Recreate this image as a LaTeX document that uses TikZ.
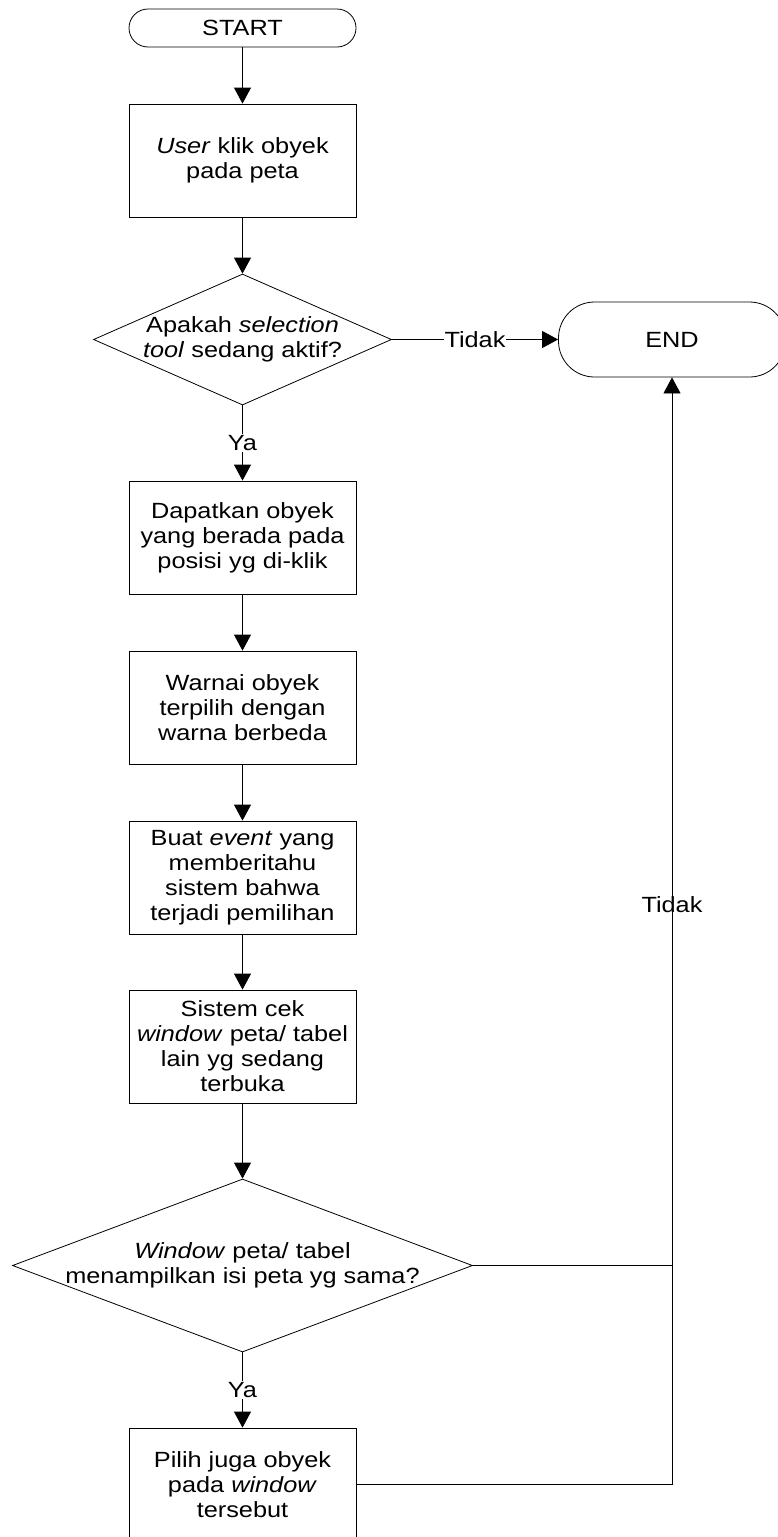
\documentclass[tikz,border=0pt]{standalone}
\usepackage{fontspec}
\setmainfont{Liberation Sans}[FakeStretch=1.15]
\usetikzlibrary{arrows.meta,shapes.geometric}
\begin{document}
\begin{tikzpicture}[x=1pt,y=-1pt,
  every node/.style={font=\fontsize{22}{25}\selectfont},
  proc/.style={draw, line width=0.8pt, minimum width=227pt, minimum height=113pt, inner sep=2pt, align=center},
  term/.style={draw, line width=0.8pt, minimum width=227pt, align=center},
  dec/.style={draw, diamond, line width=0.8pt, inner sep=0pt},
  dectext/.style={align=center, inner sep=0pt},
  flow/.style={line width=0.8pt, -{Triangle[length=16pt,width=17pt]}},
  link/.style={line width=0.8pt},
  lab/.style={fill=white, inner sep=1pt}
]
\useasboundingbox (0,0) rectangle (778,1537);

% terminals
\node[term, minimum height=38pt, rounded corners=19pt] (start) at (242.5,28) {START};
\node[term, minimum height=75pt, rounded corners=36pt] (end) at (672,339.5) {END};

% process steps and decisions
\node[proc] (b1) at (242.5,160.5) {\textit{User} klik obyek\\pada peta};
\node[dec, minimum width=298pt, minimum height=131pt] (q1) at (242.5,339.5) {};
\node[dectext] (q1t) at (q1) {Apakah \textit{selection}\\\textit{tool} sedang aktif?};
\node[proc] (b2) at (242.5,537.5) {Dapatkan obyek\\yang berada pada\\posisi yg di-klik};
\node[proc] (b3) at (242.5,707.5) {Warnai obyek\\terpilih dengan\\warna berbeda};
\node[proc] (b4) at (242.5,877.5) {Buat \textit{event} yang\\memberitahu\\sistem bahwa\\terjadi pemilihan};
\node[proc] (b5) at (242.5,1046.5) {Sistem cek\\\textit{window} peta/ tabel\\lain yg sedang\\terbuka};
\node[dec, minimum width=460pt, minimum height=173pt] (q2) at (242.5,1265.5) {};
\node[dectext] (q2t) at (q2) {\textit{Window} peta/ tabel\\menampilkan isi peta yg sama?};
\node[proc] (b6) at (242.5,1484.5) {Pilih juga obyek\\pada \textit{window}\\tersebut};

% main flow
\draw[flow] (start) -- (b1);
\draw[flow] (b1) -- (q1);
\draw[flow] (q1.east) -- node[lab] {Tidak} (end.west);
\draw[flow] (q1.south) -- node[lab] {Ya} (b2.north);
\draw[flow] (b2) -- (b3);
\draw[flow] (b3) -- (b4);
\draw[flow] (b4) -- (b5);
\draw[flow] (b5) -- (q2.north);
\draw[flow] (q2.south) -- node[lab] {Ya} (b6.north);

% return path to END
\coordinate (jq) at (end.south |- q2.east);
\coordinate (jb) at (end.south |- b6.east);
\draw[link] (q2.east) -- (jq);
\draw[link] (b6.east) -- (jb);
\draw[flow] (jb) -- node[pos=0.524, inner sep=0pt] {Tidak} (end.south);
\end{tikzpicture}
\end{document}
